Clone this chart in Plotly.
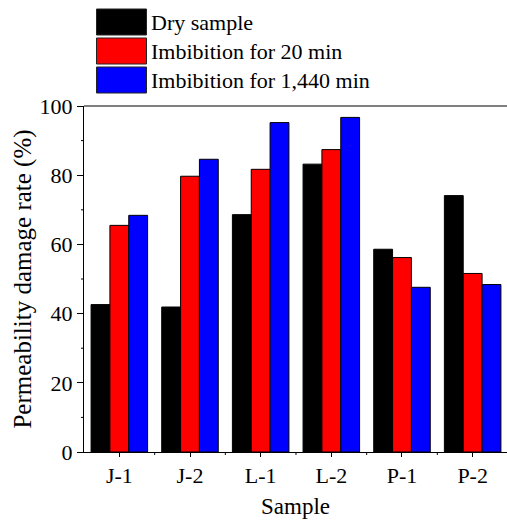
import plotly.graph_objects as go

samples = ["J-1", "J-2", "L-1", "L-2", "P-1", "P-2"]
dry = [42.6, 41.9, 68.6, 83.2, 58.6, 74.1]
imb20 = [65.5, 79.7, 81.7, 87.4, 56.2, 51.6]
imb1440 = [68.4, 84.6, 95.2, 96.7, 47.6, 48.4]
series_names = ["Dry sample", "Imbibition for 20 min", "Imbibition for 1,440 min"]
colors = ["#000000", "#FF0000", "#0000FF"]
y_ticks = [0, 20, 40, 60, 80, 100]
y_minor = [10, 30, 50, 70, 90]

FONT = "Liberation Serif"
W, H = 507, 524
ML, MR, MT, MB = 84, 0, 106, 72
PW, PH = W - ML - MR, H - MT - MB
XR = [-0.5, 5.486]
YR = [0, 100]

fig = go.Figure()
for name, vals, col in zip(series_names, [dry, imb20, imb1440], colors):
    fig.add_trace(go.Bar(x=samples, y=vals, name=name,
                         marker=dict(color=col, line=dict(color="#000000", width=1)),
                         showlegend=False))

def px_x(px):
    return (px - ML) / PW

def px_y(py):
    return (H - MB - py) / PH

shapes = []
annotations = []
rows = [(9, 35), (38, 64), (67, 93)]
for (y0, y1), name, col in zip(rows, series_names, colors):
    shapes.append(dict(type="rect", xref="paper", yref="paper",
                       x0=px_x(96.5), x1=px_x(146.5), y0=px_y(y1), y1=px_y(y0),
                       fillcolor=col, line=dict(color="#222222", width=1)))
    annotations.append(dict(xref="paper", yref="paper", x=px_x(149), y=px_y((y0 + y1) / 2),
                            text=name, showarrow=False, xanchor="left", yanchor="middle",
                            font=dict(family=FONT, size=22, color="#000000")))
shapes.append(dict(type="line", xref="paper", yref="paper", x0=0, x1=1, y0=1, y1=1,
                   line=dict(color="#808080", width=2)))
for k in range(len(samples) - 1):
    xp = (k + 0.5 - XR[0]) / (XR[1] - XR[0])
    shapes.append(dict(type="line", xref="paper", yref="paper", x0=xp, x1=xp,
                       y0=0, y1=-3 / PH, line=dict(color="#000000", width=1)))
for v in y_minor:
    yp = (v - YR[0]) / (YR[1] - YR[0])
    shapes.append(dict(type="line", xref="paper", yref="paper", x0=-3 / PW, x1=0,
                       y0=yp, y1=yp, line=dict(color="#000000", width=1)))

fig.update_layout(
    template="none",
    width=W, height=H,
    margin=dict(l=ML, r=MR, t=MT, b=MB),
    barmode="group", bargap=0.2, bargroupgap=0,
    font=dict(family=FONT, size=22, color="#000000"),
    shapes=shapes, annotations=annotations,
    xaxis=dict(type="category", range=XR,
               showline=True, linecolor="#000000", linewidth=1,
               ticks="outside", ticklen=4, tickcolor="#000000", tickwidth=1,
               showgrid=False, zeroline=False,
               tickfont=dict(family=FONT, size=22, color="#000000"),
               title=dict(text="Sample", font=dict(family=FONT, size=23, color="#000000"), standoff=10)),
    yaxis=dict(range=YR, tickvals=y_ticks,
               showline=True, linecolor="#000000", linewidth=1,
               ticks="outside", ticklen=6, tickcolor="#000000", tickwidth=1,
               showgrid=False, zeroline=False,
               tickfont=dict(family=FONT, size=22, color="#000000"),
               title=dict(text="Permeability damage rate (%)",
                          font=dict(family=FONT, size=25, color="#000000"), standoff=0)),
)

fig.write_html("out.html")
